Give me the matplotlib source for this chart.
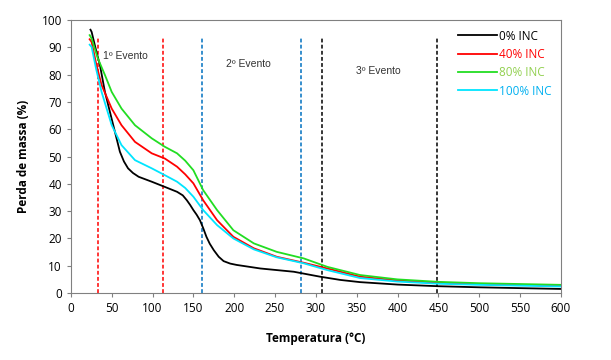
import matplotlib.pyplot as plt

# TGA curves
t_0 = [24, 25.4, 30, 35.6, 41.7, 47.8, 54, 60, 65, 70, 76, 83, 99, 115, 130, 137, 142, 146, 150, 154, 158, 162, 166, 170, 175, 181, 187, 195, 203, 232, 273, 305, 330, 354, 400, 450, 500, 550, 600]
m_0 = [96.5, 95.7, 90, 83.5, 73.7, 66.4, 59, 51.8, 48.2, 45.7, 44, 42.6, 40.8, 38.9, 37.1, 35.8, 34, 32.3, 30.4, 28.7, 26.7, 23.8, 20.6, 18.1, 15.7, 13.3, 11.7, 10.8, 10.3, 9, 7.8, 6, 4.8, 4, 3.1, 2.5, 2.1, 1.8, 1.5]

t_40 = [23, 25.4, 31, 37.6, 50, 62, 78.5, 99, 115, 130, 140, 150, 162, 179, 199, 224, 252, 285, 314, 354, 400, 450, 500, 550, 600]
m_40 = [93, 92, 84, 76.2, 67.6, 61.5, 55.4, 51.2, 49.3, 46.3, 43.5, 40.2, 34, 26.7, 20.6, 16.4, 13.3, 11.1, 9, 6, 4.6, 3.8, 3.3, 3, 2.7]

t_80 = [23, 25.4, 33, 41.7, 50, 62, 78.5, 99, 115, 130, 140, 150, 162, 179, 199, 224, 252, 285, 314, 354, 400, 450, 500, 550, 600]
m_80 = [94.5, 93.3, 86, 79.9, 73.7, 67.6, 61.5, 56.7, 53.6, 51.2, 48.5, 45, 37.7, 30.4, 23, 18.2, 15.1, 12.7, 9.6, 6.6, 5, 4.1, 3.6, 3.3, 3]

t_100 = [23, 25.4, 31, 37.6, 50, 62, 78.5, 99, 115, 130, 140, 150, 162, 179, 199, 224, 252, 285, 314, 354, 400, 450, 500, 550, 600]
m_100 = [91, 90.2, 82, 73.7, 61.5, 54.2, 48.7, 45.7, 43.2, 40.8, 38.5, 35.3, 30.4, 24.9, 20, 16, 13.1, 10.9, 8.4, 5.5, 4.2, 3.4, 3, 2.7, 2.4]

labels = ['0% INC', '40% INC', '80% INC', '100% INC']
line_colors = ['black', '#ff0000', '#22dd22', '#00e5ff']
text_colors = ['black', '#ff0000', '#92d050', '#00b0f0']

event_x = [33, 113, 160, 282, 307, 448]
event_colors = ['#ff0000', '#ff0000', '#0070c0', '#0070c0', 'black', 'black']
event_names = ['1º Evento', '2º Evento', '3º Evento']
event_pos = [(67, 86.8), (217, 84), (376, 81.5)]

fig = plt.figure(figsize=(6.11, 3.6), dpi=100)
ax = fig.add_axes([0.116, 0.186, 0.802, 0.758])

for xv, c in zip(event_x, event_colors):
    ax.plot([xv, xv], [0, 93.5], color=c, lw=1.1, ls=(0, (2.5, 1.5)))

for t, m, c, lab in zip([t_0, t_40, t_80, t_100], [m_0, m_40, m_80, m_100], line_colors, labels):
    ax.plot(t, m, color=c, lw=1.3, label=lab)

for name, (xv, yv) in zip(event_names, event_pos):
    ax.text(xv, yv, name, fontsize=7.5, color='#333333', ha='center', va='center',
            family='Liberation Sans')

leg = ax.legend(loc='upper right', frameon=False, handlelength=3.3,
                handletextpad=0.2, labelspacing=0.45, borderaxespad=0.4,
                prop={'family': 'Open Sans', 'size': 8.5})
for txt, c in zip(leg.get_texts(), text_colors):
    txt.set_color(c)

ax.set_xlim(0, 600)
ax.set_ylim(0, 100)
ax.set_xticks(range(0, 601, 50))
ax.set_yticks(range(0, 101, 10))
ax.tick_params(labelsize=8.5, length=3, color='#808080')
for lab in ax.get_xticklabels() + ax.get_yticklabels():
    lab.set_family('Open Sans')
for s in ax.spines.values():
    s.set_color('#808080')

ax.set_xlabel('Temperatura (°C)', fontsize=8.5, fontweight='bold', family='Open Sans', labelpad=12)
ax.set_ylabel('Perda de massa (%)', fontsize=8.5, fontweight='bold', family='Open Sans', labelpad=8)

fig.savefig('out.png', dpi=100)
